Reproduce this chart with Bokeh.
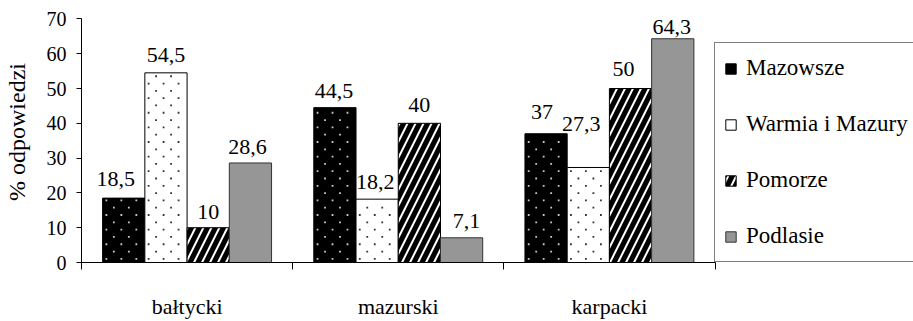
import numpy as np
from bokeh.plotting import figure
from bokeh.models import (Range1d, FixedTicker, ColumnDataSource, Legend, LegendItem,
                          LinearAxis)
from bokeh.core.properties import value
from bokeh.embed import file_html
from bokeh.resources import INLINE

# survey answers (% of respondents) per landscape type and region
categories = ["bałtycki", "mazurski", "karpacki"]
regions = ["Mazowsze", "Warmia i Mazury", "Pomorze", "Podlasie"]
mazowsze = [18.5, 44.5, 37.0]
warmia_i_mazury = [54.5, 18.2, 27.3]
pomorze = [10.0, 40.0, 50.0]
podlasie = [28.6, 7.1, 64.3]
y_ticks = [0, 10, 20, 30, 40, 50, 60, 70]
y_label = "% odpowiedzi"

series = [mazowsze, warmia_i_mazury, pomorze, podlasie]

FONT = "Liberation Serif"
BAR_W = 0.2
X_END = 3.94            # room right of the last group for the legend box
Y_END = 75
FRAME_W, FRAME_H = 833, 268
PX_X = FRAME_W / X_END  # screen pixels per x unit
PX_Y = FRAME_H / Y_END  # screen pixels per y unit

# fill look of each region's bars
bar_styles = [
    dict(fill_color="black", line_color="black"),
    dict(fill_color="white", line_color="black"),
    dict(fill_color="black", line_color="black", hatch_pattern="right_diagonal_line",
         hatch_color="white", hatch_scale=16, hatch_weight=2.0),
    dict(fill_color="#969696", line_color="#333333"),
]
# colour of the dotted texture (None = no dots)
dot_colors = ["#c8c8c8", "#333333", None, None]

# pixel nudges of the value labels so neighbouring labels stay apart
label_dx = [[-8, -1, -4], [0, -2, -7], [0, 0, -7], [-3, 5, -1]]
label_dy = [[-19, -17, -22], [-18, -17, -43], [-16, -18, -20], [-16, -17, -12]]


def dot_texture(centres, tops, step=7.5):
    """Staggered grid of small dots filling each bar (step in pixels)."""
    col, row = step / PX_X, step / PX_Y
    xs, ys = [], []
    for xc, top in zip(centres, tops):
        left, right = xc - BAR_W / 2, xc + BAR_W / 2
        y, k = row / 2, 0
        while y < top - row / 4:
            x = left + col / 2 + (k % 2) * col
            while x < right - col / 4:
                xs.append(x)
                ys.append(y)
                x += 2 * col
            y += row
            k += 1
    return xs, ys


p = figure(width=913, height=321, output_backend="svg", toolbar_location=None,
           x_range=Range1d(0, X_END), y_range=Range1d(0, Y_END),
           min_border_left=80, min_border_right=0, min_border_top=1,
           min_border_bottom=52, x_axis_type=None, y_axis_type="linear")
p.outline_line_color = None
p.xgrid.visible = False
p.ygrid.visible = False
p.background_fill_color = "white"
p.border_fill_color = "white"

legend_items = []
for k, (vals, style) in enumerate(zip(series, bar_styles)):
    x = np.arange(len(categories)) + 0.5 + (k - 1.5) * BAR_W
    src = ColumnDataSource(dict(
        x=x, top=vals,
        label=[f"{v:g}".replace(".", ",") for v in vals],
        dx=label_dx[k], dy=label_dy[k],
    ))
    bars = p.vbar(x="x", top="top", width=BAR_W, bottom=0, source=src,
                  line_width=1, **style)
    if dot_colors[k] is not None:
        dx_, dy_ = dot_texture(x, vals)
        p.scatter(dx_, dy_, marker="square", size=1.8,
                  fill_color=dot_colors[k], line_color=None)
    legend_items.append(LegendItem(label=regions[k], renderers=[bars]))
    p.text(x="x", y="top", text="label", source=src, x_offset="dx", y_offset="dy",
           text_align="center", text_baseline="alphabetic",
           text_font=value(FONT), text_font_size="22px", text_color="black")

# category axis: labels at the centres, tick marks between the groups
xaxis = LinearAxis(
    ticker=FixedTicker(ticks=[i + 0.5 for i in range(len(categories))],
                       minor_ticks=list(range(len(categories) + 1))),
    major_label_overrides={i + 0.5: c for i, c in enumerate(categories)},
    bounds=(0, len(categories)),
)
xaxis.major_tick_line_color = None
xaxis.major_tick_out = 0
xaxis.major_tick_in = 0
xaxis.minor_tick_line_color = "black"
xaxis.minor_tick_out = 7
xaxis.minor_tick_in = 0
xaxis.axis_line_color = "black"
xaxis.major_label_standoff = 24
xaxis.major_label_text_font = FONT
xaxis.major_label_text_font_size = "22px"
xaxis.major_label_text_color = "black"
p.add_layout(xaxis, "below")

yaxis = p.yaxis[0]
yaxis.ticker = FixedTicker(ticks=y_ticks)
yaxis.bounds = (0, 70)
yaxis.minor_tick_line_color = None
yaxis.major_tick_out = 5
yaxis.major_tick_in = 0
yaxis.axis_line_color = "black"
yaxis.major_tick_line_color = "black"
yaxis.major_label_standoff = 10
yaxis.major_label_text_font = FONT
yaxis.major_label_text_font_size = "20px"
yaxis.major_label_text_color = "black"
yaxis.axis_label = y_label
yaxis.axis_label_text_font = FONT
yaxis.axis_label_text_font_style = "normal"
yaxis.axis_label_text_font_size = "24px"
yaxis.axis_label_text_color = "black"
yaxis.axis_label_standoff = 14

legend = Legend(
    items=legend_items,
    location=(633, 0), orientation="vertical", margin=0, padding=9,
    spacing=24, glyph_width=13, glyph_height=13, label_height=32,
    label_standoff=9, label_text_font=FONT, label_text_font_size="23px",
    label_text_color="black", border_line_color="black", border_line_width=1,
    background_fill_color="white", background_fill_alpha=1.0,
)
p.add_layout(legend, "center")

open("out.html", "w").write(file_html(p, INLINE))
